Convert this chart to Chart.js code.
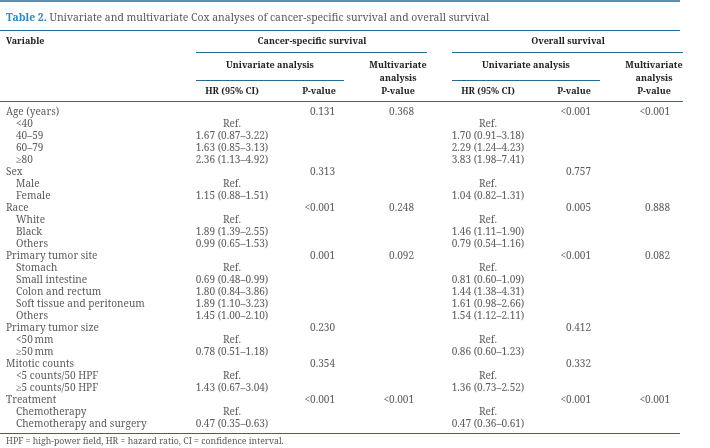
<!DOCTYPE html>
<html>
<head>
<meta charset="utf-8">
<script src="https://cdn.jsdelivr.net/npm/chart.js@4/dist/chart.umd.min.js"></script>
<style>
html,body{margin:0;padding:0;background:#fff;}
#wrap{width:710px;height:448px;position:relative;}
</style>
</head>
<body>
<div id="wrap"><canvas id="c" width="710" height="448"></canvas></div>
<script>
// ---- Table data ----
const variables = ['Age (years)','<40','40–59','60–79','≥80','Sex','Male','Female','Race','White','Black','Others',
  'Primary tumor site','Stomach','Small intestine','Colon and rectum','Soft tissue and peritoneum','Others',
  'Primary tumor size','<50\u2009mm','≥50\u2009mm','Mitotic counts','<5 counts/50 HPF','≥5 counts/50 HPF',
  'Treatment','Chemotherapy','Chemotherapy and surgery'];
const level = [0,1,1,1,1,0,1,1,0,1,1,1,0,1,1,1,1,1,0,1,1,0,1,1,0,1,1];
const cssHR = ['','Ref.','1.67 (0.87–3.22)','1.63 (0.85–3.13)','2.36 (1.13–4.92)','','Ref.','1.15 (0.88–1.51)',
  '','Ref.','1.89 (1.39–2.55)','0.99 (0.65–1.53)','','Ref.','0.69 (0.48–0.99)','1.80 (0.84–3.86)','1.89 (1.10–3.23)',
  '1.45 (1.00–2.10)','','Ref.','0.78 (0.51–1.18)','','Ref.','1.43 (0.67–3.04)','','Ref.','0.47 (0.35–0.63)'];
const cssP = ['0.131','','','','','0.313','','','<0.001','','','','0.001','','','','','','0.230','','','0.354','','','<0.001','',''];
const cssMultiP = ['0.368','','','','','','','','0.248','','','','0.092','','','','','','','','','','','','<0.001','',''];
const osHR = ['','Ref.','1.70 (0.91–3.18)','2.29 (1.24–4.23)','3.83 (1.98–7.41)','','Ref.','1.04 (0.82–1.31)',
  '','Ref.','1.46 (1.11–1.90)','0.79 (0.54–1.16)','','Ref.','0.81 (0.60–1.09)','1.44 (1.38–4.31)','1.61 (0.98–2.66)',
  '1.54 (1.12–2.11)','','Ref.','0.86 (0.60–1.23)','','Ref.','1.36 (0.73–2.52)','','Ref.','0.47 (0.36–0.61)'];
const osP = ['<0.001','','','','','0.757','','','0.005','','','','<0.001','','','','','','0.412','','','0.332','','','<0.001','',''];
const osMultiP = ['<0.001','','','','','','','','0.888','','','','0.082','','','','','','','','','','','','<0.001','',''];
const columns = [
  {key:'var', values: variables},
  {key:'cssHR', values: cssHR},
  {key:'cssP', values: cssP},
  {key:'cssMultiP', values: cssMultiP},
  {key:'osHR', values: osHR},
  {key:'osP', values: osP},
  {key:'osMultiP', values: osMultiP}
];
const titleBold = 'Table 2.';
const titleText = ' Univariate and multivariate Cox analyses of cancer-specific survival and overall survival';
const footnote = 'HPF = high-power field, HR = hazard ratio, CI = confidence interval.';

// ---- layout / style ----
const FONT = '"Noto Serif",serif';
const colX = {var:6, cssHR:232, cssP:335, cssMultiP:414, osHR:488, osP:591, osMultiP:670};
const colAlign = {var:'left', cssHR:'center', cssP:'right', cssMultiP:'right', osHR:'center', osP:'right', osMultiP:'right'};
const INDENT = 10;
const RULE = '#1f6e92';
const TEXT = '#5c5c5c';
const HEAD = '#222222';

// fit a font size so a sample string spans a target width (measured on the reference)
const mctx = document.createElement('canvas').getContext('2d');
function fitSize(sample, target, weight) {
  mctx.font = (weight || '') + ' 10px ' + FONT;
  return 10 * target / mctx.measureText(sample).width;
}
const bodySize = fitSize('Soft tissue and peritoneum', 129);
const titleSize = fitSize(titleBold + titleText, 481);
const footSize = fitSize(footnote, 278);
const headSize = fitSize('Cancer-specific survival', 109, 'bold');

// Build scatter dataset: one point per cell, positioned via scales
const cellData = [];
columns.forEach((col) => {
  col.values.forEach((v, ri) => {
    if (v !== '') cellData.push({x: colX[col.key] + (col.key === 'var' && level[ri] ? INDENT : 0), y: variables.length - 1 - ri, text: v, col: col.key});
  });
});

const tablePlugin = {
  id: 'tableText',
  beforeDraw(chart) {
    const ctx = chart.ctx;
    ctx.save();
    ctx.fillStyle = '#fff';
    ctx.fillRect(0, 0, chart.width, chart.height);
    const line = (x1, x2, y, w) => {
      ctx.beginPath(); ctx.strokeStyle = RULE; ctx.lineWidth = w || 1;
      ctx.moveTo(x1, y); ctx.lineTo(x2, y); ctx.stroke();
    };
    line(0, 680, 1, 1.4);
    line(0, 680, 30.5, 1.2);
    line(196, 427, 52.5, 1.2);
    line(452, 683, 52.5, 1.2);
    line(196, 344, 80.5, 1.2);
    line(452, 600, 80.5, 1.2);
    line(0, 683, 101.5, 1.2);
    line(0, 680, 433.5, 1.2);

    ctx.textBaseline = 'middle';
    // title
    ctx.font = 'bold ' + titleSize + 'px ' + FONT;
    ctx.fillStyle = '#2b86bd';
    ctx.textAlign = 'left';
    ctx.fillText(titleBold, 6, 18);
    const w = ctx.measureText(titleBold).width;
    ctx.font = titleSize + 'px ' + FONT;
    ctx.fillStyle = '#5a5a5a';
    ctx.fillText(titleText, 6 + w, 18);

    // headers
    ctx.font = 'bold ' + headSize + 'px ' + FONT;
    ctx.fillStyle = HEAD;
    ctx.fillText('Variable', 6, 41);
    ctx.textAlign = 'center';
    ctx.fillText('Cancer-specific survival', 312, 41);
    ctx.fillText('Overall survival', 568, 41);
    ctx.fillText('Univariate analysis', 270, 65);
    ctx.fillText('Univariate analysis', 526, 65);
    ['Multivariate', 'analysis', 'P-value'].forEach((t, i) => {
      ctx.fillText(t, 398, 65 + i * 13);
      ctx.fillText(t, 654, 65 + i * 13);
    });
    ctx.fillText('HR (95% CI)', 232, 91);
    ctx.fillText('P-value', 319, 91);
    ctx.fillText('HR (95% CI)', 488, 91);
    ctx.fillText('P-value', 574, 91);

    // footnote
    ctx.textAlign = 'left';
    ctx.font = footSize + 'px ' + FONT;
    ctx.fillStyle = '#5a5a5a';
    ctx.fillText(footnote, 6, 442);
    ctx.restore();
  },
  afterDatasetsDraw(chart) {
    const ctx = chart.ctx;
    const meta = chart.getDatasetMeta(0);
    const ds = chart.data.datasets[0].data;
    ctx.save();
    ctx.font = bodySize + 'px ' + FONT;
    ctx.fillStyle = TEXT;
    ctx.textBaseline = 'middle';
    meta.data.forEach((el, i) => {
      const d = ds[i];
      ctx.textAlign = colAlign[d.col];
      ctx.fillText(d.text, el.x, el.y);
    });
    ctx.restore();
  }
};

new Chart(document.getElementById('c'), {
  type: 'scatter',
  data: { datasets: [{ data: cellData, pointRadius: 0, pointHoverRadius: 0, showLine: false }] },
  options: {
    responsive: false,
    animation: false,
    devicePixelRatio: 1,
    events: [],
    layout: { padding: { top: 112, bottom: 448 - 424, left: 0, right: 0 } },
    plugins: { legend: { display: false }, tooltip: { enabled: false } },
    scales: {
      x: { type: 'linear', min: 0, max: 710, display: false },
      y: { type: 'linear', min: 0, max: variables.length - 1, display: false }
    }
  },
  plugins: [tablePlugin]
});
</script>
</body>
</html>
